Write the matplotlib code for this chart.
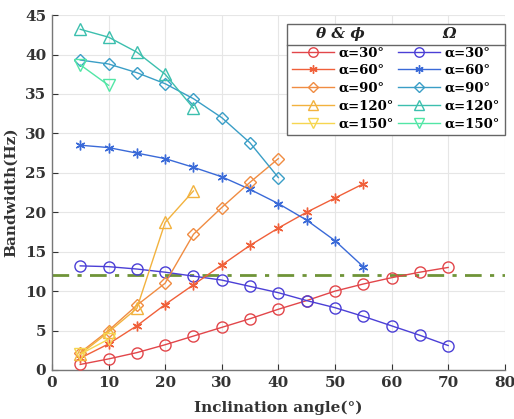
import matplotlib
matplotlib.use("Agg")
import matplotlib.pyplot as plt
from matplotlib.lines import Line2D

# ---------------- data ----------------
x30 = [5, 10, 15, 20, 25, 30, 35, 40, 45, 50, 55, 60, 65, 70]
x60 = [5, 10, 15, 20, 25, 30, 35, 40, 45, 50, 55]
x90 = [5, 10, 15, 20, 25, 30, 35, 40]
x120 = [5, 10, 15, 20, 25]
x150 = [5, 10]

tp30 = [0.7, 1.4, 2.2, 3.2, 4.3, 5.4, 6.5, 7.7, 8.8, 10.0, 10.9, 11.7, 12.4, 13.0]
tp60 = [1.5, 3.3, 5.6, 8.3, 10.8, 13.3, 15.8, 18.0, 20.0, 21.8, 23.6]
tp90 = [2.2, 5.0, 8.2, 11.0, 17.2, 20.6, 23.8, 26.8]
tp120 = [2.0, 4.8, 7.8, 18.7, 22.7]
tp150 = [2.0, 3.9]

om30 = [13.2, 13.1, 12.8, 12.4, 11.9, 11.4, 10.6, 9.8, 8.8, 7.9, 6.8, 5.6, 4.4, 3.1]
om60 = [28.5, 28.2, 27.5, 26.8, 25.7, 24.5, 22.9, 21.1, 19.0, 16.4, 13.1]
om90 = [39.3, 38.8, 37.7, 36.3, 34.4, 32.0, 28.8, 24.4]
om120 = [43.2, 42.2, 40.3, 37.5, 33.2]
om150 = [38.7, 36.1]

threshold = 12

labels = ["α=30°", "α=60°", "α=90°", "α=120°", "α=150°"]
headers = ["θ & ϕ", "Ω"]
xticks = [0, 10, 20, 30, 40, 50, 60, 70, 80]
yticks = [0, 5, 10, 15, 20, 25, 30, 35, 40, 45]

# ---------------- style ----------------
plt.rcParams['font.family'] = ['DejaVu Serif']
plt.rcParams['font.weight'] = 'bold'

fig = plt.figure(figsize=(5.14, 4.19), dpi=100)
ax = fig.add_axes([0.101, 0.117, 0.881, 0.847])

tp_colors = ['#e2464a', '#f0603a', '#f08c42', '#f2b23e', '#f6d650']
om_colors = ['#4b3fd6', '#3a6ad8', '#3a9ec6', '#3cbfae', '#52e6a6']
markers = ['o', (6, 2, 0), 'D', '^', 'v']
msizes = [8, 7, 6, 9, 9]

xs = [x30, x60, x90, x120, x150]
tps = [tp30, tp60, tp90, tp120, tp150]
oms = [om30, om60, om90, om120, om150]

tp_handles = []
om_handles = []
for i in range(5):
    mk = markers[i]
    ms = msizes[i]
    h1, = ax.plot(xs[i], tps[i], color=tp_colors[i], marker=mk, markersize=ms,
                  markerfacecolor='none', markeredgewidth=1.0, linewidth=1.0,
                  label=labels[i], zorder=3)
    tp_handles.append(h1)
    h2, = ax.plot(xs[i], oms[i], color=om_colors[i], marker=mk, markersize=ms,
                  markerfacecolor='none', markeredgewidth=1.0, linewidth=1.0,
                  label=labels[i], zorder=3)
    om_handles.append(h2)

ax.axhline(threshold, color='#6f9438', linestyle=(0, (6, 3, 1.5, 3)), linewidth=2, zorder=2)

ax.set_xlim(0, 80)
ax.set_ylim(0, 45)
ax.set_xticks(xticks)
ax.set_yticks(yticks)
ax.tick_params(direction='in', length=4, labelsize=11, colors='#333333', pad=4)
for lab in ax.get_xticklabels() + ax.get_yticklabels():
    lab.set_fontweight('bold')
ax.grid(True, color='#e6e6e6', linewidth=0.8)
ax.set_axisbelow(True)
for s in ['top', 'right']:
    ax.spines[s].set_visible(False)
for s in ['left', 'bottom']:
    ax.spines[s].set_color('#777777')
    ax.spines[s].set_linewidth(1.0)

ax.set_xlabel('Inclination angle(°)', fontsize=11, fontweight='bold', color='#333333', labelpad=8)
ax.set_ylabel('Bandwidth(Hz)', fontsize=11, fontweight='bold', color='#333333', labelpad=5)

blank = Line2D([], [], linestyle='none', marker=None)
handles = [blank] + tp_handles + [blank] + om_handles
leg_labels = [' '] + labels + [' '] + labels
leg = ax.legend(handles, leg_labels, ncol=2, loc='upper right',
                bbox_to_anchor=(1.0, 0.975), borderaxespad=0.0, frameon=True,
                fancybox=False, edgecolor='#666666', framealpha=1,
                handlelength=3.2, columnspacing=0.3, labelspacing=0.36,
                handletextpad=0.35, borderpad=0.35, markerscale=0.85,
                prop={'weight': 'bold', 'size': 9.5})
leg.get_frame().set_linewidth(1.0)
texts = leg.get_texts()

fig.canvas.draw()
renderer = fig.canvas.get_renderer()
bb = leg.get_window_extent(renderer)
inv = ax.transAxes.inverted()
t1 = texts[1].get_window_extent(renderer)
col1_end = max(texts[k].get_window_extent(renderer).x1 for k in range(1, 6))
col2_start = leg.legend_handles[7].get_window_extent(renderer).x0
row_hdr = texts[0].get_window_extent(renderer)
yhdr = (row_hdr.y0 + row_hdr.y1) / 2 + 1
xc1 = (bb.x0 + col1_end) / 2
xc2 = (col2_start + bb.x1) / 2
for xc, h in zip([xc1, xc2], headers):
    p = inv.transform((xc, yhdr))
    ax.text(p[0], p[1], h, transform=ax.transAxes, ha='center', va='center',
            fontsize=11, fontweight='bold', fontstyle='italic', color='#222222',
            zorder=11)

# separator line under the legend headers
ysep = (row_hdr.y0 + t1.y1) / 2 - 1
p0 = inv.transform((bb.x0, ysep))
p1 = inv.transform((bb.x1, ysep))
sep = Line2D([p0[0], p1[0]], [p0[1], p1[1]], transform=ax.transAxes,
             color='#666666', linewidth=1.0, zorder=10, clip_on=False)
ax.add_line(sep)

fig.savefig('out.png', dpi=100)
